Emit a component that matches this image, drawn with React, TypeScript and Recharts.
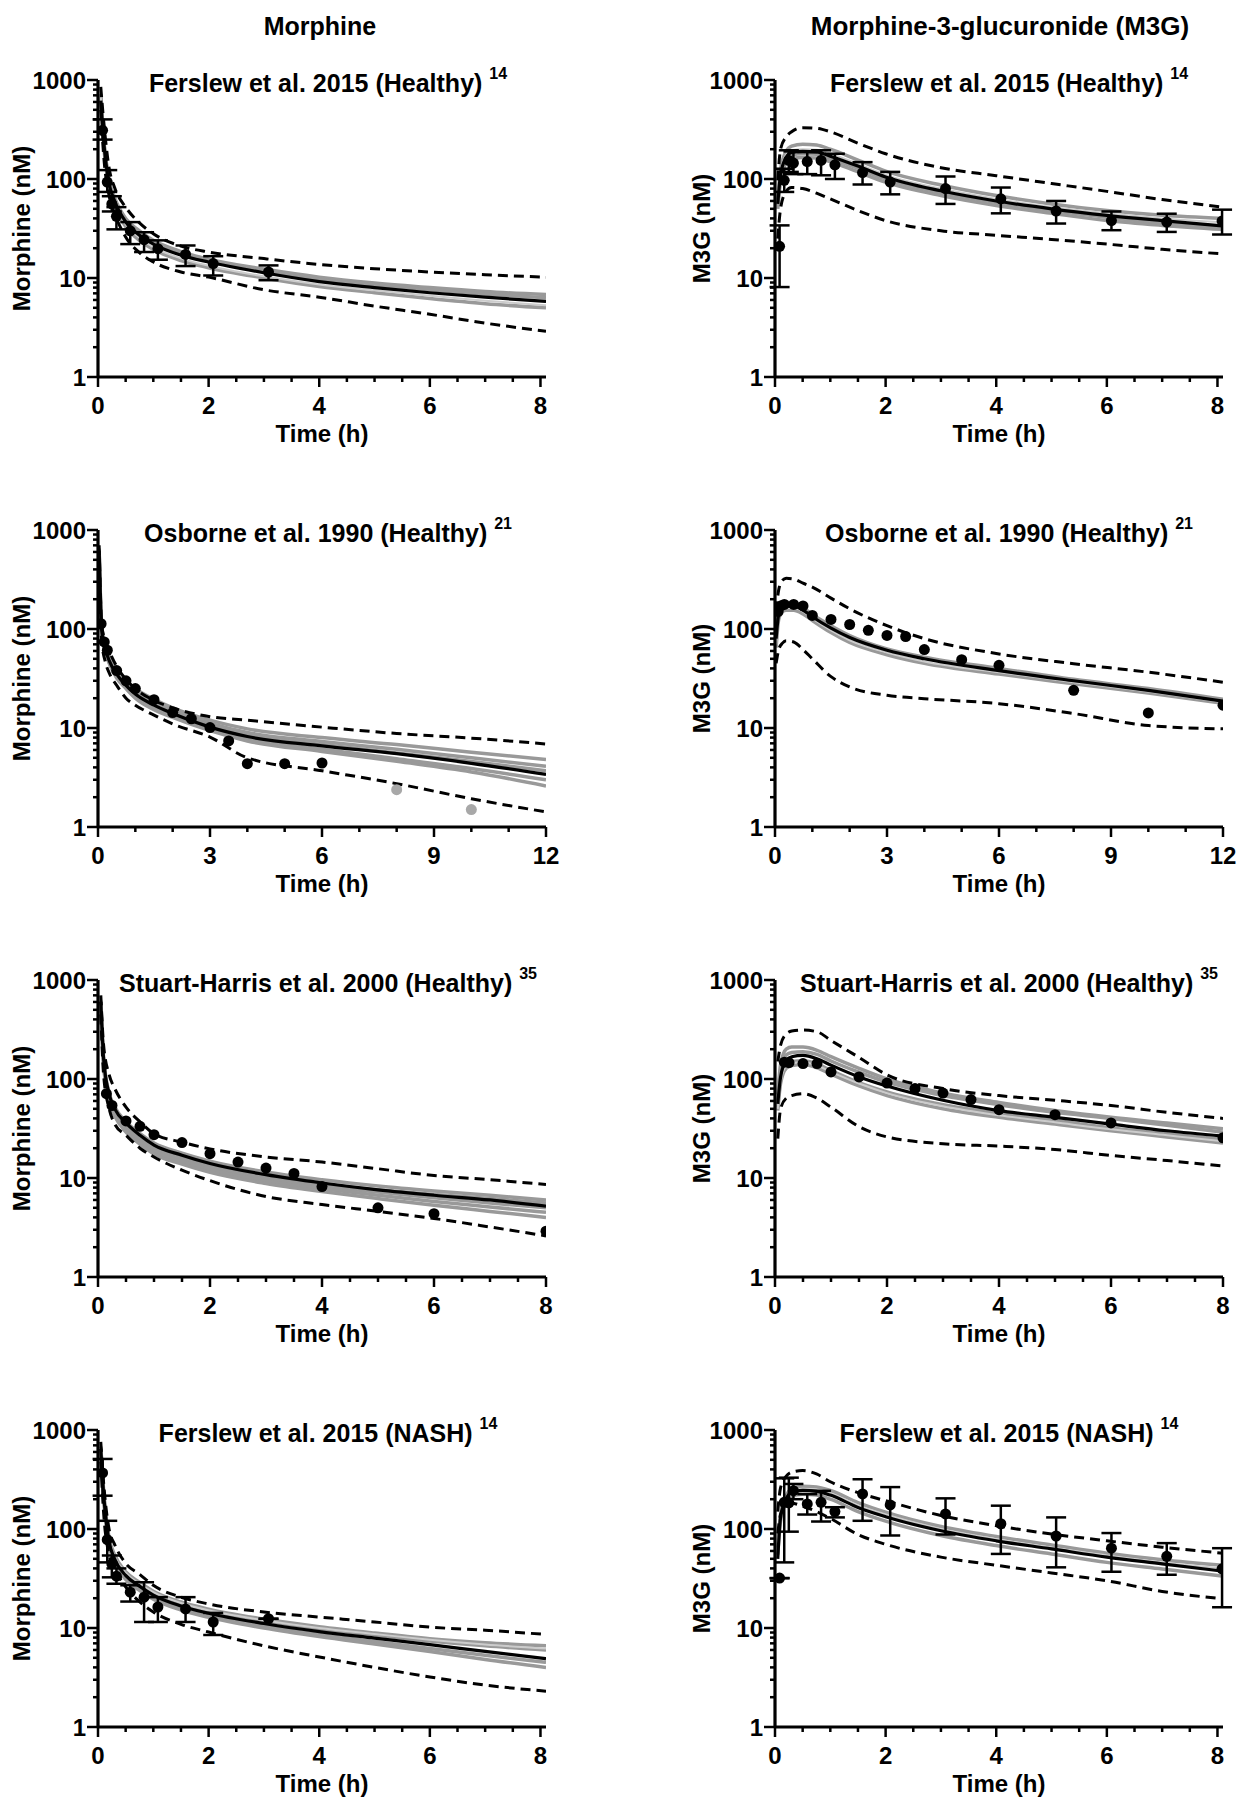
import React from "react";
import { ComposedChart, Line, Scatter, ErrorBar, XAxis, YAxis } from "recharts";

const FONT = '"Liberation Sans", Arial, Helvetica, sans-serif';

// shared time grids for the simulated curves (h)
const T8 = [0.05, 0.1, 0.2, 0.3, 0.5, 0.75, 1, 1.5, 2, 3, 4, 5, 6, 7, 8.1];
const T8S = [0.05, 0.1, 0.2, 0.3, 0.5, 0.75, 1, 1.5, 2, 3, 4, 5, 6, 7, 8];
const T12 = [0.03, 0.1, 0.2, 0.3, 0.5, 0.75, 1, 1.5, 2, 3, 4, 6, 8, 10, 12];

const Y_TICKS = [1, 2, 3, 4, 5, 6, 7, 8, 9, 10, 20, 30, 40, 50, 60, 70, 80, 90, 100, 200, 300, 400, 500, 600, 700, 800, 900, 1000];
const Y_MAJOR = [1, 10, 100, 1000];
const X8_TICKS = [0, 0.5, 1, 1.5, 2, 2.5, 3, 3.5, 4, 4.5, 5, 5.5, 6, 6.5, 7, 7.5, 8];
const X8_MAJOR = [0, 2, 4, 6, 8];
const X12_TICKS = [0, 1, 2, 3, 4, 5, 6, 7, 8, 9, 10, 11, 12];
const X12_MAJOR = [0, 3, 6, 9, 12];

// Panel 1: morphine, Ferslew 2015 healthy
const p1Mean = [620, 250, 90, 60, 37, 27, 22, 17, 14.5, 11.3, 9.2, 8.0, 7.1, 6.4, 5.8];
const p1Hi = [850, 400, 130, 82, 52, 36, 28, 21, 18.3, 15.7, 13.7, 12.4, 11.5, 10.8, 10.2];
const p1Lo = [500, 180, 68, 45, 26, 18, 14.5, 11.5, 10.2, 7.6, 6.4, 5.2, 4.3, 3.5, 2.9];
const p1Gray = [
  [720, 270, 98, 65, 40, 30, 24, 18.5, 15.5, 12.3, 10.2, 8.9, 8.0, 7.3, 6.8],
  [650, 230, 84, 55, 33, 24, 19.5, 15, 12.7, 10, 8.2, 7.1, 6.2, 5.5, 5.0],
  [690, 260, 94, 62, 38.5, 28.5, 23, 17.8, 15, 11.8, 9.7, 8.5, 7.6, 6.9, 6.3],
];
const p1Lite = [680, 240, 88, 58, 35, 25.5, 20.5, 15.8, 13.3, 10.4, 8.6, 7.5, 6.6, 5.9, 5.3];
const p1ObsT = [0.083, 0.167, 0.25, 0.333, 0.583, 0.833, 1.083, 1.583, 2.083, 3.083];
const p1ObsV = [310, 93, 56, 42, 30, 24.4, 19.8, 17.3, 14, 11.5];
const p1ObsLo = [250, 74, 47, 31, 22, 18.3, 15.3, 13.2, 10.6, 9.5];
const p1ObsHi = [400, 123, 67, 52, 36.7, 29, 24, 21.3, 16.6, 13.4];

// Panel 2: M3G, Ferslew 2015 healthy
const p2Mean = [56, 110, 165, 185, 190, 188, 170, 135, 105, 76, 60, 50, 43, 38, 33.5];
const p2Hi = [97, 200, 265, 300, 330, 325, 300, 230, 180, 130, 108, 90, 75, 62, 52];
const p2Lo = [25, 50, 75, 82, 80, 72, 63, 48, 38, 30, 27, 24.5, 22, 19.5, 17.5];
const p2Gray = [
  [62, 125, 190, 215, 225, 220, 200, 155, 120, 87, 68, 56, 48, 43, 40],
  [50, 95, 145, 160, 165, 163, 150, 118, 93, 68, 54, 45, 38, 34, 31],
  [54, 105, 158, 175, 180, 178, 162, 128, 100, 73, 58, 48, 41, 36, 32.5],
];
const p2Lite = [58, 115, 175, 195, 200, 197, 180, 142, 110, 80, 63, 52, 45, 40, 36.5];
const p2ObsT = [0.083, 0.167, 0.25, 0.333, 0.583, 0.833, 1.083, 1.583, 2.083, 3.083, 4.083, 5.083, 6.083, 7.083, 8.083];
const p2ObsV = [20.9, 97, 154, 145, 150, 154, 139, 116, 93, 80, 63, 47.5, 38, 36.7, 37.6];
const p2ObsLo = [8.1, 74, 118, 112, 112, 109, 100, 88, 70, 56, 45, 35.5, 30.4, 29.2, 27.5];
const p2ObsHi = [34, 127, 195, 190, 187, 195, 180, 148, 118, 106, 82, 60, 47, 44.6, 49];

// Panel 3: morphine, Osborne 1990
const p3Mean = [620, 95, 62, 48, 35, 27, 22, 17, 14, 10.2, 8.2, 6.6, 5.5, 4.4, 3.4];
const p3Hi = [700, 110, 75, 60, 42, 31, 25, 19, 16, 13, 12, 10.2, 8.8, 7.9, 6.9];
const p3Lo = [550, 75, 46, 36, 27, 20, 17, 13.5, 11, 8.1, 5.0, 3.7, 2.74, 1.93, 1.42];
const p3Gray = [
  [650, 105, 70, 54, 39, 30, 25, 19.5, 16, 12, 9.8, 8.0, 6.8, 5.7, 4.8],
  [640, 100, 66, 51, 37, 28.5, 23.5, 18, 15, 11.2, 9.0, 7.3, 6.1, 5.0, 4.1],
  [630, 97, 64, 50, 36, 27.5, 22.5, 17.3, 14.3, 10.6, 8.5, 6.8, 5.6, 4.6, 3.7],
  [600, 90, 58, 45, 32, 25, 20, 15.3, 12.8, 9.4, 7.4, 5.8, 4.6, 3.6, 2.6],
  [610, 92, 60, 46, 33, 25.8, 21, 16, 13.3, 9.8, 7.8, 6.1, 4.9, 3.9, 3.0],
];
const p3ObsT = [0.083, 0.167, 0.25, 0.5, 0.75, 1, 1.5, 2, 2.5, 3, 3.5, 4, 5, 6];
const p3ObsV = [113, 74, 61, 38, 30, 25, 19.3, 14.3, 12.4, 10.1, 7.4, 4.36, 4.36, 4.43];
const p3GrayT = [8, 10];
const p3GrayV = [2.38, 1.5];

// Panel 4: M3G, Osborne 1990
const p4Mean = [80, 140, 165, 170, 170, 155, 133, 102, 82, 61, 50, 38, 30, 24, 18.7];
const p4Hi = [150, 250, 310, 325, 320, 290, 265, 205, 160, 108, 80, 56, 44.6, 36.6, 29];
const p4Lo = [45, 62, 72, 76, 74, 62, 50, 33, 26, 21.4, 19.8, 17.6, 14, 10.6, 9.8];
const p4Gray = [
  [75, 150, 180, 185, 180, 165, 140, 108, 86, 63, 52, 40, 31, 25, 19.5],
  [65, 125, 150, 155, 155, 142, 122, 92, 73, 55, 45, 35, 28, 22.5, 17.8],
];
const p4Lite = [70, 135, 160, 165, 165, 150, 128, 97, 77, 58, 47, 36.5, 29, 23.3, 18.3];
const p4ObsT = [0.083, 0.167, 0.25, 0.5, 0.75, 1, 1.5, 2, 2.5, 3, 3.5, 4, 5, 6, 8, 10, 12];
const p4ObsV = [150, 172, 177, 177, 171, 137, 125, 111, 97, 86, 84, 62, 49, 43, 24, 14.2, 17];

// Panel 5: morphine, Stuart-Harris 2000
const p5Mean = [600, 160, 70, 50, 36, 27, 21.5, 17, 14, 10.8, 8.9, 7.6, 6.7, 6.0, 5.2];
const p5Hi = [700, 220, 110, 80, 52, 37, 28, 23, 19.7, 16.3, 14.5, 12.4, 10.6, 9.6, 8.6];
const p5Lo = [450, 110, 50, 35, 27, 20, 16.3, 12, 9.4, 6.5, 5.4, 4.6, 3.9, 3.2, 2.6];
const p5Gray = [
  [620, 165, 72, 52, 37, 28, 22.5, 17.8, 14.8, 11.5, 9.6, 8.3, 7.4, 6.7, 6.0],
  [610, 158, 68, 49, 35, 26, 21, 16.5, 13.6, 10.5, 8.7, 7.6, 6.8, 6.2, 5.6],
  [590, 150, 64, 46, 32, 24, 19.5, 15.5, 12.8, 9.9, 8.3, 7.2, 6.3, 5.6, 5.0],
  [580, 145, 61, 44, 30.5, 23, 18.5, 14.6, 12.1, 9.3, 7.8, 6.7, 5.8, 5.1, 4.5],
  [570, 140, 58, 42, 29, 22, 17.5, 13.8, 11.4, 8.8, 7.3, 6.2, 5.3, 4.6, 4.0],
];
const p5ObsT = [0.15, 0.25, 0.5, 0.75, 1, 1.5, 2, 2.5, 3, 3.5, 4, 5, 6, 8];
const p5ObsV = [71, 54, 37.7, 33.3, 27.4, 22.8, 17.6, 14.5, 12.6, 11.1, 8.2, 5.0, 4.36, 2.9];

// Panel 6: M3G, Stuart-Harris 2000
const p6Mean = [56, 105, 155, 168, 173, 160, 138, 105, 85, 61, 48, 41, 35, 30, 26.5];
const p6Hi = [150, 220, 285, 305, 312, 300, 245, 165, 110, 80, 68, 61, 54, 46, 40];
const p6Lo = [25, 50, 64, 68, 71, 64, 52, 33, 26, 22.2, 21, 19.4, 16.9, 15, 13.2];
const p6Gray = [
  [70, 140, 200, 210, 210, 195, 168, 128, 100, 72, 58, 48, 41, 36, 31.5],
  [60, 120, 175, 185, 188, 177, 152, 117, 93, 68, 55, 46, 40, 34, 29],
  [48, 90, 128, 137, 140, 130, 112, 85, 68, 50, 41, 35, 30, 26, 22.5],
  [52, 98, 140, 150, 153, 142, 122, 92, 74, 55, 45, 38, 32, 28, 24.5],
];
const p6Lite = [50, 95, 135, 145, 148, 137, 118, 90, 72, 53, 43, 36.5, 31, 27, 23.5];
const p6ObsT = [0.167, 0.25, 0.5, 0.75, 1, 1.5, 2, 2.5, 3, 3.5, 4, 5, 6, 8];
const p6ObsV = [148, 146, 143, 143, 118, 105, 91, 80, 72, 62, 49, 43.6, 36, 25.5];

// Panel 7: morphine, Ferslew 2015 NASH
const p7Mean = [645, 230, 75, 50, 34, 26.5, 21.5, 16.7, 14.1, 11.1, 9.2, 7.9, 6.8, 5.8, 4.9];
const p7Hi = [760, 300, 100, 70, 45, 35, 27, 20.5, 17.5, 14.5, 12.9, 11.5, 10.2, 9.5, 8.6];
const p7Lo = [480, 150, 55, 40, 26, 18.5, 14.5, 10.9, 9.1, 6.6, 5.1, 4.0, 3.2, 2.65, 2.3];
const p7Gray = [
  [680, 250, 82, 55, 37, 29, 23.5, 18.3, 15.5, 12.3, 10.3, 8.9, 7.8, 7.1, 6.6],
  [660, 240, 78, 52, 35, 27.5, 22.5, 17.5, 14.8, 11.8, 9.8, 8.5, 7.4, 6.6, 6.0],
  [630, 220, 72, 48, 32.5, 25, 20.3, 15.9, 13.4, 10.5, 8.6, 7.3, 6.2, 5.3, 4.5],
  [620, 210, 70, 46, 31, 24, 19.5, 15.2, 12.8, 10, 8.2, 6.9, 5.8, 4.8, 4.0],
];
const p7Lite = [670, 245, 80, 53, 36, 28, 23, 17.9, 15.1, 12.0, 10.0, 8.7, 7.6, 6.8, 6.2];
const p7ObsT = [0.083, 0.167, 0.25, 0.333, 0.583, 0.833, 1.083, 1.583, 2.083, 3.083];
const p7ObsV = [368, 78, 44.5, 33.4, 23, 20.5, 16.3, 15.6, 11.5, 12.4];
const p7ObsLo = [217, 46, 32.5, 28, 18.5, 11.5, 11.5, 11.5, 8.5, 12.4];
const p7ObsHi = [510, 121, 54, 40, 27, 29, 20.5, 20.5, 14.2, 12.4];

// Panel 8: M3G, Ferslew 2015 NASH
const p8Mean = [50, 130, 200, 235, 245, 240, 220, 165, 133, 96, 76, 63, 52, 44.5, 37.5];
const p8Hi = [150, 260, 340, 375, 390, 360, 300, 233, 193, 137, 108, 89, 76, 65.5, 57];
const p8Lo = [90, 140, 175, 182, 170, 150, 128, 88, 70, 52, 43, 36, 30, 23.4, 19.7];
const p8Gray = [
  [65, 140, 215, 255, 270, 265, 245, 185, 148, 106, 84, 69, 57, 49, 43],
  [55, 120, 185, 215, 225, 220, 200, 150, 120, 86, 68, 56, 46, 39.5, 33.5],
];
const p8Lite = [62, 135, 205, 245, 255, 250, 230, 173, 140, 100, 79, 65, 54, 46, 40];
const p8ObsT = [0.083, 0.167, 0.25, 0.333, 0.583, 0.833, 1.083, 1.583, 2.083, 3.083, 4.083, 5.083, 6.083, 7.083, 8.083];
const p8ObsV = [31.9, 186, 184, 244, 179, 186, 150, 226, 175, 142, 113, 85, 64, 53, 39.6];
const p8ObsLo = [31.9, 46, 94, 200, 140, 119, 131, 121, 86, 88, 56, 41, 37, 34.5, 16.2];
const p8ObsHi = [31.9, 325, 330, 285, 225, 243, 166, 318, 265, 204, 172, 131, 91, 72, 64];

const panels = [
  { row: 0, col: 0, title: "Ferslew et al. 2015 (Healthy)", sup: "14", xMax: 8.1, t: T8, mean: p1Mean, hi: p1Hi, lo: p1Lo, grays: p1Gray, lite: p1Lite, obsT: p1ObsT, obsV: p1ObsV, obsLo: p1ObsLo, obsHi: p1ObsHi },
  { row: 0, col: 1, title: "Ferslew et al. 2015 (Healthy)", sup: "14", xMax: 8.1, t: T8, mean: p2Mean, hi: p2Hi, lo: p2Lo, grays: p2Gray, lite: p2Lite, obsT: p2ObsT, obsV: p2ObsV, obsLo: p2ObsLo, obsHi: p2ObsHi },
  { row: 1, col: 0, title: "Osborne et al. 1990 (Healthy)", sup: "21", xMax: 12, t: T12, mean: p3Mean, hi: p3Hi, lo: p3Lo, grays: p3Gray, obsT: p3ObsT, obsV: p3ObsV, grayT: p3GrayT, grayV: p3GrayV },
  { row: 1, col: 1, title: "Osborne et al. 1990 (Healthy)", sup: "21", xMax: 12, t: T12, mean: p4Mean, hi: p4Hi, lo: p4Lo, grays: p4Gray, lite: p4Lite, obsT: p4ObsT, obsV: p4ObsV },
  { row: 2, col: 0, title: "Stuart-Harris et al. 2000 (Healthy)", sup: "35", xMax: 8, t: T8S, mean: p5Mean, hi: p5Hi, lo: p5Lo, grays: p5Gray, obsT: p5ObsT, obsV: p5ObsV },
  { row: 2, col: 1, title: "Stuart-Harris et al. 2000 (Healthy)", sup: "35", xMax: 8, t: T8S, mean: p6Mean, hi: p6Hi, lo: p6Lo, grays: p6Gray, lite: p6Lite, obsT: p6ObsT, obsV: p6ObsV },
  { row: 3, col: 0, title: "Ferslew et al. 2015 (NASH)", sup: "14", xMax: 8.1, t: T8, mean: p7Mean, hi: p7Hi, lo: p7Lo, grays: p7Gray, lite: p7Lite, obsT: p7ObsT, obsV: p7ObsV, obsLo: p7ObsLo, obsHi: p7ObsHi },
  { row: 3, col: 1, title: "Ferslew et al. 2015 (NASH)", sup: "14", xMax: 8.1, t: T8, mean: p8Mean, hi: p8Hi, lo: p8Lo, grays: p8Gray, lite: p8Lite, obsT: p8ObsT, obsV: p8ObsV, obsLo: p8ObsLo, obsHi: p8ObsHi },
];

const PLOT_W = 448;
const PLOT_H = 297;
const PLOT_TOP = 80;
const AXIS_X = [98, 775];

function YTick(props: any) {
  const { x, y, payload } = props;
  const major = Y_MAJOR.includes(payload.value);
  return (
    <g>
      <line x1={x} x2={x - (major ? 11 : 5)} y1={y} y2={y} stroke="#000" strokeWidth={2.5} />
      {major && (
        <text x={x - 12} y={y} textAnchor="end" dominantBaseline="central" fontFamily={FONT} fontWeight="bold" fontSize={24} fill="#000">
          {payload.value}
        </text>
      )}
    </g>
  );
}

function makeXTick(majors: number[]) {
  return (props: any) => {
    const { x, y, payload } = props;
    const major = majors.includes(payload.value);
    return (
      <g>
        <line x1={x} x2={x} y1={y} y2={y + (major ? 10 : 5)} stroke="#000" strokeWidth={2.5} />
        {major && (
          <text x={x} y={y + 28} textAnchor="middle" dominantBaseline="central" fontFamily={FONT} fontWeight="bold" fontSize={24} fill="#000">
            {payload.value}
          </text>
        )}
      </g>
    );
  };
}

const Dot = (props: any) => <circle cx={props.cx} cy={props.cy} r={5.5} fill={props.fill} />;

function Panel({ cfg }: { cfg: any }) {
  const rows = cfg.t.map((t: number, i: number) => {
    const r: any = { t, mean: cfg.mean[i], hi: cfg.hi[i], lo: cfg.lo[i] };
    cfg.grays.forEach((g: number[], k: number) => (r["g" + k] = g[i]));
    if (cfg.lite) r.lite = cfg.lite[i];
    return r;
  });
  const obs = cfg.obsT.map((t: number, i: number) => ({
    t,
    v: cfg.obsV[i],
    err: cfg.obsLo ? [cfg.obsV[i] - cfg.obsLo[i], cfg.obsHi[i] - cfg.obsV[i]] : [0, 0],
  }));
  const grayObs = cfg.grayT ? cfg.grayT.map((t: number, i: number) => ({ t, v: cfg.grayV[i] })) : null;
  const is12 = cfg.xMax === 12;
  const axisX = AXIS_X[cfg.col];
  const left = cfg.col * 630;
  const margin = { top: PLOT_TOP, left: axisX - left - 60, right: 630 - (axisX - left) - PLOT_W, bottom: 450 - PLOT_TOP - PLOT_H - 40 };

  return (
    <div style={{ position: "absolute", left, top: cfg.row * 450 }}>
      <ComposedChart width={630} height={450} data={rows} margin={margin}>
        <XAxis
          type="number"
          dataKey="t"
          domain={[0, cfg.xMax]}
          allowDataOverflow
          ticks={is12 ? X12_TICKS : X8_TICKS}
          interval={0}
          height={40}
          tickSize={0}
          tickMargin={0}
          tickLine={false}
          axisLine={{ stroke: "#000", strokeWidth: 3.2 }}
          tick={makeXTick(is12 ? X12_MAJOR : X8_MAJOR)}
        />
        <YAxis
          type="number"
          scale="log"
          domain={[1, 1000]}
          allowDataOverflow
          ticks={Y_TICKS}
          interval={0}
          width={60}
          tickSize={0}
          tickMargin={0}
          tickLine={false}
          axisLine={{ stroke: "#000", strokeWidth: 3.2 }}
          tick={YTick}
        />
        {cfg.grays.map((_: any, k: number) => (
          <Line key={k} dataKey={"g" + k} type="monotone" stroke="#999999" strokeWidth={3.5} dot={false} isAnimationActive={false} />
        ))}
        {cfg.lite && <Line dataKey="lite" type="monotone" stroke="#cccccc" strokeWidth={2} dot={false} isAnimationActive={false} />}
        <Line dataKey="hi" type="monotone" stroke="#000" strokeWidth={3} strokeDasharray="10 6" dot={false} isAnimationActive={false} />
        <Line dataKey="lo" type="monotone" stroke="#000" strokeWidth={3} strokeDasharray="10 6" dot={false} isAnimationActive={false} />
        <Line dataKey="mean" type="monotone" stroke="#000" strokeWidth={3.2} dot={false} isAnimationActive={false} />
        <Scatter data={obs} dataKey="v" fill="#000" shape={Dot} isAnimationActive={false}>
          {cfg.obsLo && <ErrorBar dataKey="err" direction="y" width={10} stroke="#000" strokeWidth={2.5} />}
        </Scatter>
        {grayObs && <Scatter data={grayObs} dataKey="v" fill="#a8a8a8" shape={Dot} isAnimationActive={false} />}
      </ComposedChart>
    </div>
  );
}

export default function App() {
  return (
    <div style={{ position: "absolute", left: 0, top: 0, width: 1259, height: 1812, background: "#fff" }}>
      {panels.map((p, i) => (
        <Panel key={i} cfg={p} />
      ))}
      <svg width={1259} height={1812} style={{ position: "absolute", left: 0, top: 0, pointerEvents: "none" }} fontFamily={FONT} fontWeight="bold" fill="#000">
        <text x={320} y={26} textAnchor="middle" dominantBaseline="central" fontSize={25}>Morphine</text>
        <text x={1000} y={26} textAnchor="middle" dominantBaseline="central" fontSize={26}>Morphine-3-glucuronide (M3G)</text>
        {panels.map((p, i) => {
          const cx = AXIS_X[p.col] + PLOT_W / 2;
          const top = p.row * 450;
          return (
            <g key={i}>
              <text x={cx + (p.col ? 10 : 6)} y={top + 83} textAnchor="middle" dominantBaseline="central" fontSize={25}>
                {p.title} <tspan fontSize={16} dy={-10}>{p.sup}</tspan>
              </text>
              <text x={cx} y={top + 433} textAnchor="middle" dominantBaseline="central" fontSize={24}>Time (h)</text>
              <text
                transform={`translate(${p.col ? 701 : 21}, ${top + PLOT_TOP + PLOT_H / 2}) rotate(-90)`}
                textAnchor="middle"
                dominantBaseline="central"
                fontSize={24}
              >
                {p.col ? "M3G (nM)" : "Morphine (nM)"}
              </text>
            </g>
          );
        })}
      </svg>
    </div>
  );
}
